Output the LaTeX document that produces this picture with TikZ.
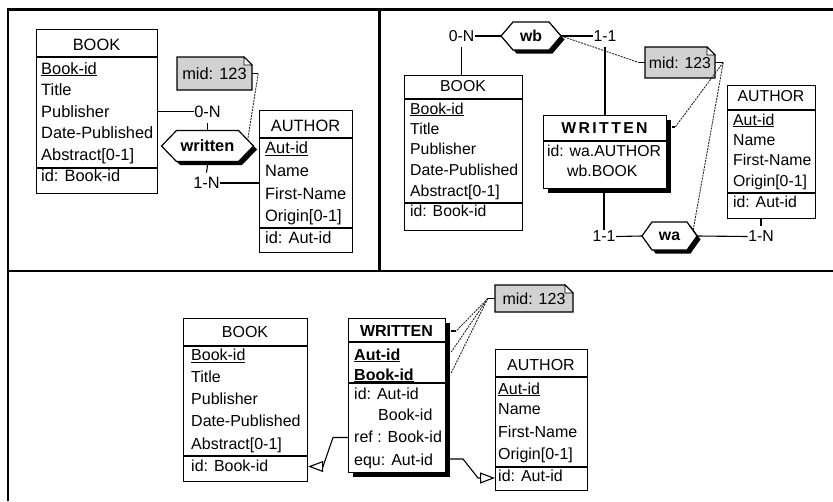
\documentclass[tikz,border=0pt]{standalone}
\usepackage{fontspec}
\setmainfont{Liberation Sans}
\usetikzlibrary{calc,arrows.meta}
\tikzset{
  frame/.style={line width=2.6pt},
  ent/.style={draw, line width=1.2pt, fill=white, inner sep=0pt, anchor=north west},
  sep/.style={line width=1.2pt},
  txt/.style={inner sep=0pt, anchor=base west, font=\fontsize{\fs}{19}\selectfont},
  ttl/.style={inner sep=0pt, anchor=base, font=\fontsize{\fs}{19}\selectfont},
  card/.style={inner sep=0.5pt, anchor=center, font=\fontsize{\fs}{19}\selectfont},
  link/.style={line width=1.1pt},
  dlink/.style={line width=0.9pt, dash pattern=on 2pt off 1pt, draw=black!85},
  opentri/.style={-{Triangle[open, length=15pt, width=11pt, line width=1.1pt]}},
}
\def\fs{16}
% hexagon: name, cx, cy, half width, half height, tip, label
\newcommand\hexa[7]{%
  \fill[black] (#2-#4+3.5,#3+3.5) -- (#2-#4+#6+3.5,#3-#5+3.5) -- (#2+#4-#6+3.5,#3-#5+3.5)
     -- (#2+#4+3.5,#3+3.5) -- (#2+#4-#6+3.5,#3+#5+3.5) -- (#2-#4+#6+3.5,#3+#5+3.5) -- cycle;
  \draw[line width=1.2pt, fill=white] (#2-#4,#3) -- (#2-#4+#6,#3-#5) -- (#2+#4-#6,#3-#5)
     -- (#2+#4,#3) -- (#2+#4-#6,#3+#5) -- (#2-#4+#6,#3+#5) -- cycle;
  \node[inner sep=0pt, minimum width={2*#4}, minimum height={2*#5},
        font=\bfseries\fontsize{\fs}{19}\selectfont] (#1) at (#2,#3) {#7};
}
% note: name, x1, y1, x2, y2
\newcommand\midnote[5]{%
  \filldraw[line width=1.1pt, fill=black!18] (#2,#3) -- (#4-8,#3) -- (#4,#3+8) -- (#4,#5) -- (#2,#5) -- cycle;
  \draw[line width=0.8pt, fill=white] (#4-8,#3) -- (#4-8,#3+8) -- (#4,#3+8) -- cycle;
  \node[inner sep=0pt, minimum width={#4-#2}, minimum height={#5-#3},
        font=\fontsize{\fs}{19}\selectfont] (#1) at ({(#2+#4)/2},{(#3+#5)/2}) {mid: 123};
}
\begin{document}
\begin{tikzpicture}[x=1pt,y=-1pt]
\useasboundingbox (0,0) rectangle (833,501);
% frame
\draw[frame] (8,501) -- (8,9.3) -- (833,9.3);
\draw[frame] (8,271) -- (833,271);
\draw[frame] (379.5,9.3) -- (379.5,271);

% ================= Panel 1 =================
\begin{scope}
\def\fs{16.4}
\node[ent, minimum width=121pt, minimum height=164pt] (b1) at (36,29) {};
\draw[sep] (36,57) -- (157,57);
\draw[sep] (36,168) -- (157,168);
\node[ttl] (b1t) at (96.5,50) {BOOK};
\node[txt] (b1r1) at (41,74) {\underline{Book-id}};
\node[txt] (b1r2) at (41,95.5) {Title};
\node[txt] (b1r3) at (41,117) {Publisher};
\node[txt] (b1r4) at (41,138.5) {Date-Published};
\node[txt] (b1r5) at (41,160) {Abstract[0-1]};
\node[txt] (b1r6) at (41,181.5) {id: Book-id};

\node[ent, minimum width=93pt, minimum height=142pt] (a1) at (259,110) {};
\draw[sep] (259,138) -- (352,138);
\draw[sep] (259,228) -- (352,228);
\node[ttl] (a1t) at (305.5,131.5) {AUTHOR};
\node[txt] (a1r1) at (265,153.5) {\underline{Aut-id}};
\node[txt] (a1r2) at (265,176.5) {Name};
\node[txt] (a1r3) at (265,199) {First-Name};
\node[txt] (a1r4) at (265,221) {Origin[0-1]};
\node[txt] (a1r5) at (265,243.5) {id: Aut-id};

\hexa{h1}{207.5}{146}{46}{15.5}{15}{written}
\node[card] (c1a) at (207.5,111.5) {0-N};
\node[card] (c1b) at (206.5,183) {1-N};
\draw[link] (b1.east |- c1a) -- (c1a.west);
\draw[link] ([yshift=-5pt]c1a.south) -- (h1.north);
\draw[link] ([yshift=-3.5pt]h1.south) -- ([yshift=4pt]c1b.north);
\draw[link] (c1b.east) -- (a1.west |- c1b);

\midnote{n1}{177}{57}{252}{90}
\draw[link] (n1.east) -- ++(6,0) coordinate (n1s);
\draw[dlink] (n1s) -- ($(h1.north east)+(-6,9.5)$);
\end{scope}

% ================= Panel 2 =================
\begin{scope}
\def\fs{15.8}
\node[ent, minimum width=118pt, minimum height=155pt] (b2) at (404,75) {};
\draw[sep] (404,99) -- (522,99);
\draw[sep] (404,203) -- (522,203);
\node[ttl] (b2t) at (463,91.5) {BOOK};
\node[txt] (b2r1) at (410,114) {\underline{Book-id}};
\node[txt] (b2r2) at (410,134) {Title};
\node[txt] (b2r3) at (410,154.5) {Publisher};
\node[txt] (b2r4) at (410,175.5) {Date-Published};
\node[txt] (b2r5) at (410,196.5) {Abstract[0-1]};
\node[txt] (b2r6) at (410,216.5) {id: Book-id};

\fill[black] (548,120) rectangle (671,193);
\node[ent, minimum width=123pt, minimum height=73pt] (w2) at (543,115) {};
\draw[sep] (543,141) -- (666,141);
\node[ttl, font=\bfseries\fontsize{\fs}{19}\selectfont\addfontfeatures{LetterSpace=15}] (w2t) at (604.5,133.5) {WRITTEN};
\node[txt] (w2r1) at (547,156.5) {id: wa.AUTHOR};
\node[txt] (w2r2) at (567,176.5) {wb.BOOK};

\node[ent, minimum width=88pt, minimum height=133pt] (a2) at (727,85) {};
\draw[sep] (727,110) -- (815,110);
\draw[sep] (727,193) -- (815,193);
\node[ttl] (a2t) at (771,101.7) {AUTHOR};
\node[txt] (a2r1) at (733,125) {\underline{Aut-id}};
\node[txt] (a2r2) at (733,145) {Name};
\node[txt] (a2r3) at (733,165) {First-Name};
\node[txt] (a2r4) at (733,186) {Origin[0-1]};
\node[txt] (a2r5) at (733,207) {id: Aut-id};

\hexa{hwb}{531}{36}{30}{14}{12}{wb}
\hexa{hwa}{669.5}{236}{27.5}{14}{10}{wa}

\node[card] (c2a) at (461.5,36) {0-N};
\node[card] (c2b) at (605,36) {1-1};
\node[card] (c2c) at (604,236.5) {1-1};
\node[card] (c2d) at (761,236.5) {1-N};
\draw[link] (c2a.east) -- (hwb.west);
\draw[link] ([yshift=-5pt]c2a.south) -- (c2a |- b2.north);
\draw[link] (hwb.east) -- (c2b.west);
\draw[link] ([yshift=-5pt]c2b.south) -- (c2b |- w2.north);
\draw[link] (c2c |- w2.south) -- (c2c.north);
\draw[link] (c2c.east) -- (hwa.west);
\draw[link] (hwa.east) -- (c2d.west);
\draw[link] (c2d |- a2.south) -- ([yshift=4pt]c2d.north);

\midnote{n2}{645}{47}{715}{78}
\draw[link] ($(n2.west)+(-6,0)$) coordinate (n2w) -- (n2.west);
\draw[dlink] (hwb.east) -- (n2w);
\draw[link] (n2.east) -- ++(8,0) coordinate (n2s);
\draw[link] ($(w2.north east)+(5,12)$) -- ++(3,0) coordinate (w2s);
\draw[dlink] (n2s) -- (w2s);
\draw[dlink] (n2s) -- ($(hwa.north east)+(-4,8)$);
\end{scope}

% ================= Panel 3 =================
\begin{scope}
\def\fs{16}
\node[ent, minimum width=124pt, minimum height=163pt] (b3) at (183,318) {};
\draw[sep] (183,346) -- (307,346);
\draw[sep] (183,456) -- (307,456);
\node[ttl] (b3t) at (245,337.7) {BOOK};
\node[txt] (b3r1) at (191,360.7) {\underline{Book-id}};
\node[txt] (b3r2) at (191,382.3) {Title};
\node[txt] (b3r3) at (191,404) {Publisher};
\node[txt] (b3r4) at (191,426.7) {Date-Published};
\node[txt] (b3r5) at (191,449) {Abstract[0-1]};
\node[txt] (b3r6) at (191,471.7) {id: Book-id};

\fill[black] (353,323) rectangle (450,477);
\node[ent, minimum width=97pt, minimum height=154pt] (w3) at (348,318) {};
\draw[sep] (348,342) -- (445,342);
\draw[sep] (348,383) -- (445,383);
\node[ttl, font=\bfseries\fontsize{\fs}{19}\selectfont] (w3t) at (396.5,336) {WRITTEN};
\node[txt, font=\bfseries\fontsize{\fs}{19}\selectfont] (w3r1) at (354,360) {\underline{Aut-id}};
\node[txt, font=\bfseries\fontsize{\fs}{19}\selectfont] (w3r2) at (354,380) {\underline{Book-id}};
\node[txt] (w3r3) at (354,399.3) {id: Aut-id};
\node[txt] (w3r4) at (378,420.7) {Book-id};
\node[txt] (w3r5) at (354,442.3) {ref : Book-id};
\node[txt] (w3r6) at (354,465) {equ: Aut-id};

\node[ent, minimum width=92pt, minimum height=141pt] (a3) at (495,349) {};
\draw[sep] (495,377) -- (587,377);
\draw[sep] (495,467) -- (587,467);
\node[ttl] (a3t) at (541,370.7) {AUTHOR};
\node[txt] (a3r1) at (498,394) {\underline{Aut-id}};
\node[txt] (a3r2) at (498,414.7) {Name};
\node[txt] (a3r3) at (498,437.7) {First-Name};
\node[txt] (a3r4) at (498,459.3) {Origin[0-1]};
\node[txt] (a3r5) at (498,481) {id: Aut-id};

\midnote{n3}{495}{285}{573}{312}
\draw[link] (n3.west) -- ++(-7,0) coordinate (n3s);
\draw[link] ($(w3.north east)+(5,13)$) -- ++(5,0) coordinate (w3s1);
\coordinate (w3s2) at ($(w3.north east)+(5,34)$);
\coordinate (w3s3) at ($(w3.north east)+(5,55)$);
\draw[dlink] (n3s) -- (w3s1);
\draw[dlink] (n3s) -- (w3s2);
\draw[dlink] (n3s) -- (w3s3);

\coordinate (r1) at (333,437.5);
\coordinate (r2) at (323,466.5);
\draw[link, opentri] (w3.west |- r1) -- (r1) -- (r2) -- (b3.east |- r2);
\coordinate (e1) at (463,459);
\coordinate (e2) at (478,478);
\draw[link, opentri] (w3.east |- e1) -- (e1) -- (e2) -- (a3.west |- e2);
\end{scope}
\end{tikzpicture}
\end{document}
